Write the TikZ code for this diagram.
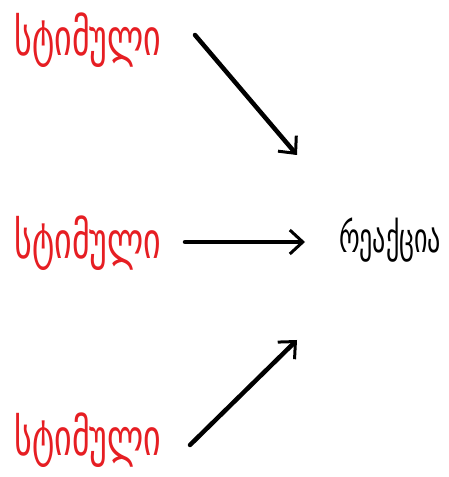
\documentclass[tikz,border=0pt]{standalone}
\usepackage{fontspec}
\usepackage{graphicx}
\newfontfamily\geo{DejaVu Sans}
\usetikzlibrary{arrows.meta}
\definecolor{stimred}{RGB}{230,30,35}
\begin{document}
\begin{tikzpicture}[x=1pt,y=1pt,
  stim/.style={font=\geo\fontsize{34}{36}\selectfont, text=stimred, inner sep=0pt},
  react/.style={font=\geo\fontsize{26}{28}\selectfont, text=black, inner sep=0pt},
  arr/.style={line width=4.5pt, line cap=round, -{Straight Barb[length=13pt,width=24pt,line width=3pt]}}]
\useasboundingbox (0,0) rectangle (449,477);
\node[stim] (s1) at (88,437) {\scalebox{1}[1.5]{სტიმული}};
\node[stim] (s2) at (88,234) {\scalebox{1}[1.5]{სტიმული}};
\node[stim] (s3) at (88,37) {\scalebox{1}[1.5]{სტიმული}};
\node[react] (r) at (390,237) {\scalebox{1}[1.6]{რეაქცია}};
\coordinate (a1s) at (195,442);
\coordinate (a1e) at (297,322);
\coordinate (a2s) at (185,235);
\coordinate (a2e) at (305,235);
\coordinate (a3s) at (190,32);
\coordinate (a3e) at (297,137);
\draw[arr] (a1s) -- (a1e);
\draw[arr] (a2s) -- (a2e);
\draw[arr] (a3s) -- (a3e);
\end{tikzpicture}
\end{document}
